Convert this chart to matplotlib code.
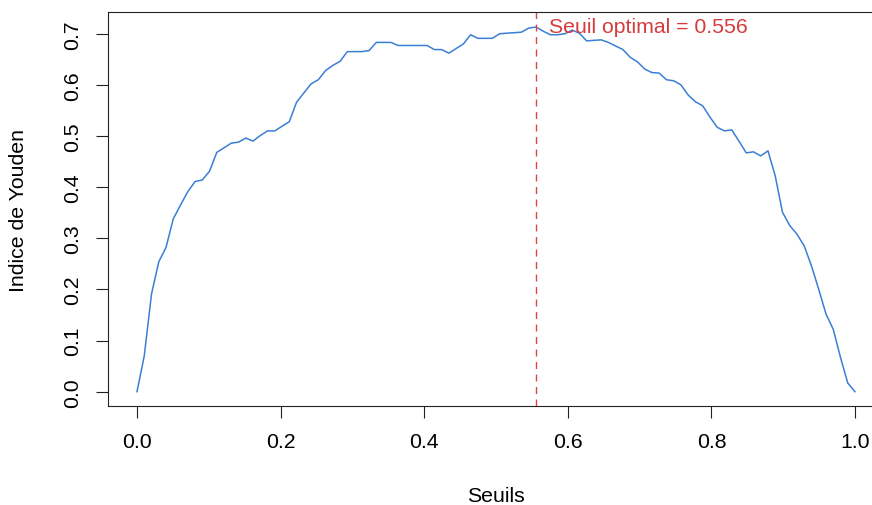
import numpy as np
import matplotlib
matplotlib.use("Agg")
import matplotlib.pyplot as plt

# Thresholds: seq(0, 1, length.out = 100)
seuils = np.linspace(0, 1, 100)

youden = [
    0.000, 0.070, 0.191, 0.254, 0.282, 0.338, 0.365, 0.391, 0.411, 0.414,
    0.431, 0.468, 0.477, 0.486, 0.488, 0.496, 0.490, 0.501, 0.510, 0.510,
    0.519, 0.528, 0.566, 0.584, 0.602, 0.610, 0.628, 0.638, 0.646, 0.665,
    0.665, 0.665, 0.667, 0.683, 0.683, 0.683, 0.677, 0.677, 0.677, 0.677,
    0.677, 0.669, 0.669, 0.662, 0.671, 0.680, 0.698, 0.691, 0.691, 0.691,
    0.700, 0.701, 0.702, 0.703, 0.711, 0.713, 0.705, 0.698, 0.698, 0.700,
    0.707, 0.701, 0.686, 0.687, 0.688, 0.683, 0.676, 0.669, 0.654, 0.645,
    0.631, 0.624, 0.623, 0.610, 0.608, 0.600, 0.580, 0.567, 0.559, 0.537,
    0.517, 0.510, 0.512, 0.490, 0.467, 0.469, 0.461, 0.471, 0.422, 0.351,
    0.325, 0.308, 0.285, 0.246, 0.200, 0.152, 0.122, 0.067, 0.017, 0.000,
]

seuil_optimal = 0.556
label_optimal = "Seuil optimal = 0.556"
x_ticks = [0.0, 0.2, 0.4, 0.6, 0.8, 1.0]
y_ticks = [0.0, 0.1, 0.2, 0.3, 0.4, 0.5, 0.6, 0.7]

plt.rcParams['font.family'] = ['Liberation Sans', 'DejaVu Sans']

W, H = 872, 506
fig = plt.figure(figsize=(W / 100, H / 100), dpi=100)

# axes geometry in pixels (R-style 4% extension)
x0_px, x_scale = 137.0, 718.0
y0_px, y_scale = 392.7, 511.4
xlim = (-0.04, 1.04)
ylim = (-0.0285, 0.7415)
left = x0_px + xlim[0] * x_scale
right = x0_px + xlim[1] * x_scale
top = y0_px - ylim[1] * y_scale
bottom = y0_px - ylim[0] * y_scale
ax = fig.add_axes([left / W, 1 - bottom / H, (right - left) / W, (bottom - top) / H])

ax.plot(seuils, youden, color='#3A7FD6', lw=1.1)
ax.axvline(seuil_optimal, color='#D9474A', lw=1.0, linestyle=(0, (5, 4)))
ax.text(0.574, 0.7028, label_optimal, color='#D63B3E', fontsize=15.3,
        ha='left', va='baseline')

ax.set_xlim(*xlim)
ax.set_ylim(*ylim)
ax.set_xticks(x_ticks)
ax.set_xticklabels([f"{v:.1f}" for v in x_ticks])
ax.set_yticks(y_ticks)
ax.set_yticklabels([f"{v:.1f}" for v in y_ticks], rotation=90, va='center')

ax.tick_params(axis='both', direction='out', length=8.6, width=0.8,
               color='#222222', labelsize=15.3, pad=10)
for s in ['left', 'bottom', 'top', 'right']:
    ax.spines[s].set_linewidth(0.8)
    ax.spines[s].set_color('#222222')

fig.text((left + right) / 2 / W, 1 - 497 / H, "Seuils", ha='center', va='center', fontsize=15.3)
fig.text(18 / W, 1 - (top + bottom) / 2 / H, "Indice de Youden", ha='center', va='center',
         rotation=90, fontsize=15.3)

fig.savefig("out.png", dpi=100)
